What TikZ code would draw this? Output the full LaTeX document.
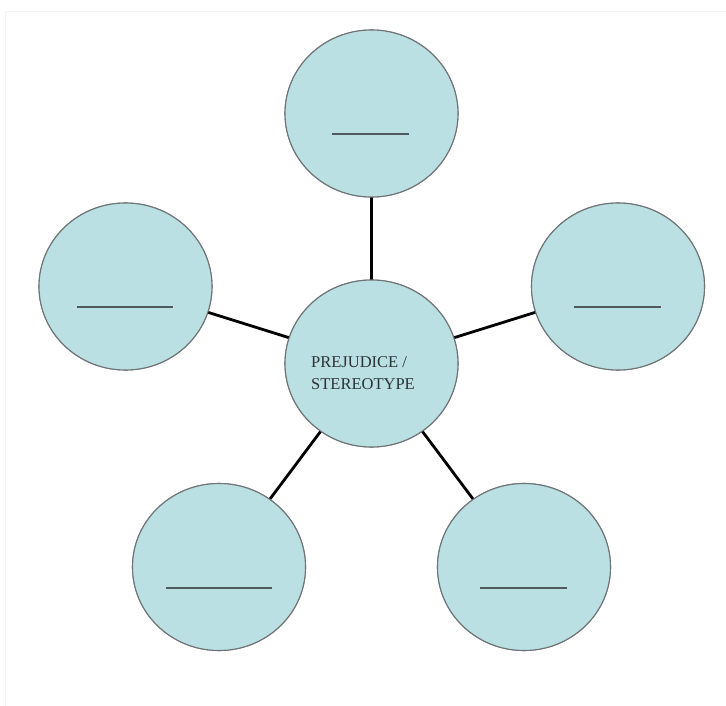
\documentclass[tikz,border=0pt]{standalone}
\usepackage{fontspec}
\setmainfont{Liberation Serif}
\usetikzlibrary{shapes.geometric,calc}
\definecolor{bubblefill}{RGB}{186,224,228}
\definecolor{bubbleline}{RGB}{112,116,118}
\definecolor{dashcol}{RGB}{80,90,92}
\definecolor{txtcol}{RGB}{45,50,52}
\tikzset{
  bubble/.style={ellipse, draw=bubbleline, line width=1.1pt, fill=bubblefill,
    minimum width=173pt, minimum height=167pt, inner sep=0pt, outer sep=0pt},
  link/.style={line width=2.8pt, black},
  blank/.style={line width=1.8pt, dashcol}
}
\begin{document}
\begin{tikzpicture}[x=1pt,y=-1pt]
\useasboundingbox (0,0) rectangle (726,706);
\fill[white] (0,0) rectangle (726,706);
\draw[black!5, line width=0.8pt] (5,730) -- (5,11.5) -- (740,11.5);
% nodes
\node[bubble] (c) at (371.5,363.5) {};
\node[bubble] (t) at (371.5,113.5) {};
\node[bubble] (l) at (125.5,286.5) {};
\node[bubble] (r) at (618,286.5) {};
\node[bubble] (bl) at (219,567) {};
\node[bubble] (br) at (524,567) {};
% connectors
\draw[link] (c) -- (t);
\draw[link] (c) -- (l);
\draw[link] (c) -- (r);
\draw[link] (c) -- (bl);
\draw[link] (c) -- (br);
% redraw borders on top of connector ends
\foreach \n in {c,t,l,r,bl,br}{\node[bubble] at (\n) {};}
% blanks
\draw[blank] ($(t)+(-39.5,20.5)$) coordinate (t1) -- ($(t)+(37.5,20.5)$) coordinate (t2);
\draw[blank] ($(l)+(-48.5,20.5)$) coordinate (l1) -- ($(l)+(47.5,20.5)$) coordinate (l2);
\draw[blank] ($(r)+(-44,20.5)$) coordinate (r1) -- ($(r)+(43,20.5)$) coordinate (r2);
\draw[blank] ($(bl)+(-53,21)$) coordinate (bl1) -- ($(bl)+(53,21)$) coordinate (bl2);
\draw[blank] ($(br)+(-44,21)$) coordinate (br1) -- ($(br)+(43,21)$) coordinate (br2);
% centre text
\node[anchor=west, align=left, text=txtcol, font=\fontsize{16.5}{22}\selectfont, inner sep=0pt]
  (lbl) at (311,373) {PREJUDICE /\\STEREOTYPE};
\end{tikzpicture}
\end{document}
